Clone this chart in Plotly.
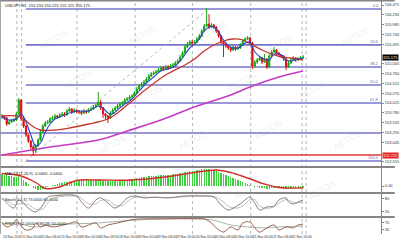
import plotly.graph_objects as go

# ---------------- data ----------------
opens = [153.675, 153.700, 153.650, 153.500, 153.550, 153.575, 153.600, 153.750, 154.100, 153.625,
 153.450, 153.225, 153.075, 152.925, 152.825, 152.950, 153.100, 153.300, 153.450, 153.525,
 153.550, 153.625, 153.650, 153.700, 153.675, 153.725, 153.750, 153.725, 153.825, 153.875,
 153.800, 153.850, 153.825, 153.800, 153.775, 153.825, 153.800, 153.850, 153.875, 153.925,
 153.975, 154.050, 153.900, 153.750, 153.700, 153.650, 153.775, 153.850, 153.900, 153.950,
 154.000, 154.025, 154.100, 154.125, 154.175, 154.200, 154.275, 154.375, 154.450, 154.500,
 154.550, 154.625, 154.700, 154.750, 154.775, 154.800, 154.850, 154.900, 154.875, 154.925,
 154.900, 154.950, 154.975, 155.025, 155.075, 155.175, 155.275, 155.425, 155.500, 155.550,
 155.525, 155.550, 155.625, 155.700, 155.825, 155.950, 156.000, 155.925, 155.975, 155.925,
 155.825, 155.700, 155.550, 155.500, 155.450, 155.400, 155.350, 155.425, 155.375, 155.400,
 155.475, 155.575, 155.625, 155.650, 155.525, 154.950, 155.050, 155.100, 155.150, 155.050,
 155.125, 154.925, 155.200, 155.300, 155.350, 155.275, 155.225, 155.200, 155.125, 154.925,
 155.025, 155.100, 155.150, 155.100, 155.125, 155.150]
highs = [153.750, 153.725, 153.675, 153.600, 153.625, 153.650, 153.800, 154.150, 154.125, 153.675,
 153.475, 153.250, 153.100, 152.975, 153.000, 153.150, 153.350, 153.500, 153.575, 153.600,
 153.675, 153.700, 153.750, 153.725, 153.775, 153.800, 153.800, 153.875, 153.925, 153.900,
 153.900, 153.875, 153.850, 153.825, 153.875, 153.850, 153.900, 153.925, 153.975, 154.025,
 154.300, 154.100, 153.925, 153.775, 153.725, 153.825, 153.900, 153.950, 154.000, 154.050,
 154.075, 154.150, 154.175, 154.225, 154.250, 154.325, 154.425, 154.500, 154.550, 154.600,
 154.675, 154.750, 154.800, 154.825, 154.850, 154.900, 154.950, 154.950, 154.975, 154.975,
 155.000, 155.025, 155.075, 155.125, 155.225, 155.325, 155.475, 155.550, 155.600, 155.600,
 155.600, 155.675, 155.750, 155.875, 156.000, 156.400, 156.250, 156.025, 156.000, 155.950,
 155.850, 155.725, 155.575, 155.525, 155.475, 155.425, 155.475, 155.450, 155.450, 155.525,
 155.625, 155.675, 155.700, 155.675, 155.550, 155.100, 155.150, 155.200, 155.175, 155.250,
 155.150, 155.250, 155.350, 155.425, 155.375, 155.300, 155.250, 155.225, 155.150, 155.075,
 155.150, 155.200, 155.175, 155.175, 155.200, 155.225]
lows = [153.625, 153.600, 153.450, 153.475, 153.525, 153.550, 153.575, 153.725, 153.575, 153.400,
 153.175, 153.025, 152.850, 152.700, 152.775, 152.925, 153.075, 153.275, 153.425, 153.500,
 153.525, 153.600, 153.625, 153.625, 153.650, 153.700, 153.675, 153.700, 153.800, 153.750,
 153.775, 153.775, 153.750, 153.725, 153.750, 153.750, 153.775, 153.825, 153.850, 153.900,
 153.950, 153.850, 153.650, 153.600, 153.525, 153.625, 153.750, 153.825, 153.875, 153.925,
 153.975, 154.000, 154.075, 154.100, 154.150, 154.175, 154.250, 154.350, 154.425, 154.475,
 154.525, 154.600, 154.675, 154.725, 154.750, 154.775, 154.825, 154.825, 154.850, 154.850,
 154.875, 154.925, 154.950, 155.000, 155.050, 155.150, 155.250, 155.400, 155.475, 155.475,
 155.500, 155.525, 155.600, 155.675, 155.800, 155.925, 155.875, 155.900, 155.875, 155.775,
 155.650, 155.500, 155.175, 155.400, 155.350, 155.300, 155.325, 155.325, 155.350, 155.375,
 155.450, 155.550, 155.600, 155.475, 154.875, 154.900, 155.000, 155.075, 155.000, 155.025,
 154.875, 154.900, 155.175, 155.275, 155.225, 155.175, 155.150, 155.075, 154.850, 154.900,
 155.000, 155.075, 155.050, 155.075, 155.100, 155.125]
closes = [153.700, 153.650, 153.500, 153.550, 153.575, 153.600, 153.750, 154.100, 153.625, 153.450,
 153.225, 153.075, 152.925, 152.825, 152.950, 153.100, 153.300, 153.450, 153.525, 153.550,
 153.625, 153.650, 153.700, 153.675, 153.725, 153.750, 153.725, 153.825, 153.875, 153.800,
 153.850, 153.825, 153.800, 153.775, 153.825, 153.800, 153.850, 153.875, 153.925, 153.975,
 154.050, 153.900, 153.750, 153.700, 153.650, 153.775, 153.850, 153.900, 153.950, 154.000,
 154.025, 154.100, 154.125, 154.175, 154.200, 154.275, 154.375, 154.450, 154.500, 154.550,
 154.625, 154.700, 154.750, 154.775, 154.800, 154.850, 154.900, 154.875, 154.925, 154.900,
 154.950, 154.975, 155.025, 155.075, 155.175, 155.275, 155.425, 155.500, 155.550, 155.525,
 155.550, 155.625, 155.700, 155.825, 155.950, 156.000, 155.925, 155.975, 155.925, 155.825,
 155.700, 155.550, 155.500, 155.450, 155.400, 155.350, 155.425, 155.375, 155.400, 155.475,
 155.575, 155.625, 155.650, 155.525, 154.950, 155.050, 155.100, 155.150, 155.050, 155.125,
 154.925, 155.200, 155.300, 155.350, 155.275, 155.225, 155.200, 155.125, 154.925, 155.025,
 155.100, 155.150, 155.100, 155.125, 155.150, 155.175]
bars = list(range(len(closes)))

ma_fast_idx = [0, 3, 6, 8, 10, 12, 14, 16, 18, 20, 22, 25, 28, 32, 36, 40, 42, 44, 46, 48, 51, 54,
               57, 60, 63, 66, 69, 72, 75, 78, 81, 84, 86, 88, 90, 92, 95, 98, 101, 103, 105, 108,
               111, 113, 116, 118, 120, 123, 125]
ma_fast = [153.675, 153.600, 153.625, 153.750, 153.550, 153.225, 152.950, 153.025, 153.300, 153.500,
           153.625, 153.700, 153.775, 153.825, 153.825, 153.950, 153.900, 153.775, 153.750, 153.850,
           154.000, 154.125, 154.325, 154.525, 154.675, 154.825, 154.875, 154.950, 155.150, 155.400,
           155.550, 155.825, 155.925, 155.925, 155.800, 155.600, 155.425, 155.400, 155.525, 155.550,
           155.300, 155.150, 155.100, 155.250, 155.225, 155.100, 155.075, 155.125, 155.150]
ma_mid_idx = [0, 8, 12, 16, 22, 28, 36, 40, 44, 48, 52, 60, 68, 76, 80, 84, 88, 92, 96, 100, 104,
              108, 112, 116, 120, 125]
ma_mid = [153.700, 153.675, 153.475, 153.350, 153.350, 153.400, 153.500, 153.550, 153.625, 153.775,
          153.975, 154.375, 154.725, 154.975, 155.125, 155.325, 155.475, 155.575, 155.625, 155.600,
          155.475, 155.350, 155.250, 155.175, 155.150, 155.100]
ma_slow_idx = [0, 20, 40, 52, 66, 81, 95, 103, 115, 125]
ma_slow = [152.725, 152.925, 153.100, 153.325, 153.600, 153.950, 154.225, 154.425, 154.675, 154.825]

fib_high = 156.375
fib_low = 152.575
fib_ratios = [0.0, 0.236, 0.382, 0.5, 0.618, 1.0]
fib_labels = ["0.0", "23.6", "38.2", "50.0", "61.8", "100.0"]
fib_start_bar = 9.9
fib_end_bar = 85.7
level_blue = 153.275
level_red = 152.725

price_ticks = [156.475, 156.230, 155.985, 155.740, 155.495, 155.005, 154.760, 154.515,
               154.270, 154.025, 153.780, 153.535, 153.290, 153.045, 152.555]

macd_hist = [0.24, 0.23, 0.22, 0.21, 0.20, 0.18, 0.18, 0.20, 0.16, 0.12,
             0.08, 0.04, 0.00, -0.04, -0.06, -0.08, -0.07, -0.06, -0.04, -0.02,
             0.00, 0.02, 0.03, 0.04, 0.06, 0.07, 0.08, 0.09, 0.10, 0.10,
             0.11, 0.12, 0.12, 0.12, 0.12, 0.12, 0.12, 0.12, 0.13, 0.13,
             0.13, 0.12, 0.11, 0.10, 0.10, 0.10, 0.10, 0.11, 0.11, 0.12,
             0.12, 0.13, 0.13, 0.14, 0.15, 0.15, 0.16, 0.17, 0.18, 0.18,
             0.19, 0.20, 0.20, 0.21, 0.21, 0.22, 0.22, 0.22, 0.23, 0.23,
             0.23, 0.24, 0.24, 0.25, 0.26, 0.27, 0.28, 0.29, 0.30, 0.30,
             0.31, 0.32, 0.33, 0.34, 0.35, 0.35, 0.34, 0.33, 0.31, 0.30,
             0.28, 0.26, 0.24, 0.22, 0.21, 0.19, 0.17, 0.15, 0.13, 0.11,
             0.09, 0.07, 0.05, 0.03, 0.01, -0.01, -0.02, -0.03, -0.03, -0.04,
             -0.05, -0.05, -0.04, -0.04, -0.04, -0.04, -0.04, -0.05, -0.05, -0.05,
             -0.05, -0.04, -0.04, -0.04, -0.04, -0.04]
macd_sig_idx = [0, 8, 14, 18, 24, 31, 40, 54, 68, 80, 89, 95, 102, 109, 115, 125]
macd_sig = [0.25, 0.20, 0.07, -0.05, -0.02, 0.11, 0.12, 0.12, 0.18, 0.27, 0.32, 0.27, 0.16, 0.04, -0.03, -0.04]

stoch_idx = [0, 2, 5, 7, 11, 14, 17, 19, 21, 31, 33, 36, 39, 41, 44, 47, 50, 52, 55, 59, 64, 68,
             72, 76, 84, 88, 91, 94, 96, 99, 102, 103, 105, 107, 110, 113, 115, 118, 119, 121, 123, 125]
stoch_main = [82, 59, 36, 73, 36, 18, 50, 86, 91, 91, 64, 36, 73, 82, 59, 36, 59, 82, 91, 82, 86, 82,
              86, 91, 91, 86, 50, 27, 36, 55, 82, 86, 59, 27, 41, 45, 73, 82, 64, 55, 64, 73]
stoch_sig = [78, 70, 50, 55, 52, 30, 32, 60, 80, 90, 80, 55, 55, 70, 72, 50, 48, 65, 85, 86, 84, 84,
             84, 88, 90, 89, 72, 45, 36, 40, 65, 75, 75, 45, 35, 42, 58, 75, 72, 62, 60, 65]

rsi_idx = [0, 2, 5, 6, 7, 10, 13, 14, 16, 18, 21, 27, 31, 33, 36, 39, 41, 44, 48, 54, 58, 64, 68,
           73, 81, 84, 87, 89, 92, 95, 98, 100, 103, 105, 107, 110, 113, 115, 118, 121, 123, 125]
rsi_fast = [75, 44, 69, 92, 69, 25, 38, 69, 44, 56, 44, 62, 75, 44, 56, 69, 38, 56, 69, 90, 94, 95, 95,
            96, 96, 95, 69, 38, 12, 44, 25, 69, 75, 38, 12, 38, 56, 25, 44, 38, 56, 62]
rsi_slow_idx = [0, 6, 13, 20, 27, 40, 54, 68, 81, 88, 95, 102, 109, 115, 125]
rsi_slow = [62, 69, 44, 56, 62, 69, 86, 94, 94, 86, 56, 44, 38, 44, 50]

separator_bars = [6.2, 8.2, 31.2, 55.3, 79.1, 103.3, 124.6, 126.3]
time_label_bars = [0, 8, 16, 24, 32, 40, 48, 56, 64, 72, 80, 88, 96, 104, 112, 120]
time_labels = ["14 Nov 2024", "15 Nov 00:00", "15 Nov 08:00", "15 Nov 16:00", "18 Nov 00:00",
               "18 Nov 08:00", "18 Nov 16:00", "19 Nov 00:00", "19 Nov 08:00", "19 Nov 16:00",
               "20 Nov 00:00", "20 Nov 08:00", "20 Nov 16:00", "21 Nov 00:00", "21 Nov 08:00",
               "21 Nov 16:00"]

# ---------------- layout geometry ----------------
W, H = 400, 240
ML, MR, MT, MB = 0, 14, 0, 6
PW, PH = W - ML - MR, H - MT - MB
X0, X1 = -0.8, -0.8 + PW / 2.44


def py(p):  # pixel (from top of plot area) -> paper y
    return 1 - p / PH


dom_main = [py(166), py(0)]
dom_macd = [py(192), py(168)]
dom_sto = [py(216), py(194)]
dom_rsi = [py(234), py(218)]

FONT = "Liberation Sans"

fig = go.Figure()

fig.add_trace(go.Candlestick(
    x=bars, open=opens, high=highs, low=lows, close=closes,
    increasing=dict(line=dict(color="#18a818", width=1), fillcolor="#18a818"),
    decreasing=dict(line=dict(color="#e01010", width=1), fillcolor="#e01010"),
    whiskerwidth=0, xaxis="x", yaxis="y", hoverinfo="skip"))

fig.add_trace(go.Scatter(x=ma_slow_idx, y=ma_slow, mode="lines", line=dict(color="#c43cc4", width=1.6, shape="spline"),
                         xaxis="x", yaxis="y", hoverinfo="skip"))
fig.add_trace(go.Scatter(x=ma_mid_idx, y=ma_mid, mode="lines", line=dict(color="#c8362e", width=1.3, shape="spline"),
                         xaxis="x", yaxis="y", hoverinfo="skip"))
fig.add_trace(go.Scatter(x=ma_fast_idx, y=ma_fast, mode="lines", line=dict(color="#2a44c8", width=1.1, shape="spline"),
                         xaxis="x", yaxis="y", hoverinfo="skip"))

# MACD
fig.add_trace(go.Bar(x=bars, y=macd_hist, marker=dict(color="#3ccf3c", line=dict(width=0)), width=0.55,
                     xaxis="x", yaxis="y2", hoverinfo="skip"))
fig.add_trace(go.Scatter(x=macd_sig_idx, y=macd_sig, mode="lines", line=dict(color="#d0302a", width=1.4, shape="spline"),
                         xaxis="x", yaxis="y2", hoverinfo="skip"))
# Stochastic
fig.add_trace(go.Scatter(x=stoch_idx, y=stoch_sig, mode="lines", line=dict(color="#bdbdbd", width=1, shape="spline"),
                         xaxis="x", yaxis="y3", hoverinfo="skip"))
fig.add_trace(go.Scatter(x=stoch_idx, y=stoch_main, mode="lines", line=dict(color="#8f7d72", width=1, shape="spline"),
                         xaxis="x", yaxis="y3", hoverinfo="skip"))
# RSI
fig.add_trace(go.Scatter(x=rsi_slow_idx, y=rsi_slow, mode="lines", line=dict(color="#a7b5a5", width=1, shape="spline"),
                         xaxis="x", yaxis="y4", hoverinfo="skip"))
fig.add_trace(go.Scatter(x=rsi_idx, y=rsi_fast, mode="lines", line=dict(color="#9a5f55", width=1, shape="spline"),
                         xaxis="x", yaxis="y4", hoverinfo="skip"))

shapes = []
for b in separator_bars:
    shapes.append(dict(type="line", xref="x", yref="paper", x0=b, x1=b, y0=0, y1=1,
                       line=dict(color="#b4b4b4", width=1, dash="dot"), layer="below"))
for r in fib_ratios:
    lvl = fib_high - r * (fib_high - fib_low)
    shapes.append(dict(type="line", xref="x", yref="y", x0=fib_start_bar, x1=X1, y0=lvl, y1=lvl,
                       line=dict(color="#7474cc", width=1.6), layer="below"))
shapes.append(dict(type="line", xref="x", yref="y", x0=fib_start_bar, x1=fib_end_bar, y0=fib_low, y1=fib_high,
                   line=dict(color="#b8b8b8", width=1, dash="dot"), layer="below"))
shapes.append(dict(type="line", xref="x", yref="y", x0=X0, x1=X1, y0=level_blue, y1=level_blue,
                   line=dict(color="#7474cc", width=1.6), layer="below"))
shapes.append(dict(type="line", xref="x", yref="y", x0=X0, x1=X1, y0=level_red, y1=level_red,
                   line=dict(color="#e03a3a", width=1.4), layer="below"))
for p in [0.5, 167, 193, 217]:
    shapes.append(dict(type="line", xref="paper", yref="paper", x0=0, x1=W / PW, y0=py(p), y1=py(p),
                       line=dict(color="#858585", width=2)))
shapes.append(dict(type="line", xref="paper", yref="paper", x0=0.001, x1=0.001, y0=0, y1=1,
                   line=dict(color="#9a9a9a", width=1)))

annotations = []
for (wx, wy) in [(35, 25), (125, 20), (215, 15), (300, 30), (378, 22), (60, 80), (150, 95), (245, 82),
                 (335, 75), (95, 145), (195, 140), (290, 130), (370, 140), (50, 205), (150, 205),
                 (250, 205), (345, 205)]:
    annotations.append(dict(text="AETOS", x=wx / PW, y=py(wy), xref="paper", yref="paper", showarrow=False,
                            textangle=-30, font=dict(family=FONT, size=9, color="rgba(130,130,130,0.16)")))
for r, lab in zip(fib_ratios, fib_labels):
    lvl = fib_high - r * (fib_high - fib_low)
    annotations.append(dict(text=lab, x=1, y=lvl, xref="paper", yref="y", xanchor="right", yanchor="bottom",
                            showarrow=False, font=dict(family=FONT, size=4, color="#6a6ab0"), yshift=-1))
annotations.append(dict(text="%.3f" % closes[-1], x=1, y=closes[-1], xref="paper", yref="y", xanchor="left",
                        showarrow=False, bgcolor="#000000", borderpad=0, xshift=1,
                        font=dict(family=FONT, size=4, color="#ffffff")))
annotations.append(dict(text="%.3f" % level_red, x=1, y=level_red, xref="paper", yref="y", xanchor="left",
                        showarrow=False, bgcolor="#e02020", borderpad=0, xshift=1,
                        font=dict(family=FONT, size=4, color="#ffffff")))
headers = [("USDJPY,H1  %.3f %.3f %.3f %.3f" % (opens[-1], highs[-1], lows[-1], closes[-1]), py(1)),
           ("MACD(12,26,9) %.4f %.4f" % (macd_hist[-1], macd_sig[-1]), py(168.5)),
           ("Stoch(5,3,3) %.4f %.4f" % (stoch_main[-1], stoch_sig[-1]), py(194.5)),
           ("RSI(14) %.4f  RSI(28) %.4f" % (rsi_fast[-1], rsi_slow[-1]), py(218.5))]
for txt, yy in headers:
    annotations.append(dict(text=txt, x=0.008, y=yy, xref="paper", yref="paper", xanchor="left", yanchor="top",
                            showarrow=False, font=dict(family=FONT, size=4, color="#222222")))
for b, lab in zip(time_label_bars, time_labels):
    annotations.append(dict(text=lab, x=b, y=0, xref="x", yref="paper", xanchor="left", yanchor="top",
                            showarrow=False, yshift=0.5, borderpad=0,
                            font=dict(family=FONT, size=3.3, color="#333333")))

yax_common = dict(side="right", showgrid=False, zeroline=False, showline=True, linecolor="#8a8a8a",
                  linewidth=1, ticks="outside", ticklen=2, tickcolor="#8a8a8a",
                  tickfont=dict(family=FONT, size=4, color="#333333"), fixedrange=True)

fig.update_layout(
    width=W, height=H, margin=dict(l=ML, r=MR, t=MT, b=MB),
    paper_bgcolor="white", plot_bgcolor="white", showlegend=False, bargap=0,
    hovermode=False,
    xaxis=dict(range=[X0, X1], domain=[0, 1], anchor="y4", showgrid=False, zeroline=False,
               showticklabels=False, showline=False, ticks="", rangeslider=dict(visible=False),
               fixedrange=True),
    yaxis=dict(domain=dom_main, range=[156.6 - 166 / 40, 156.6], tickvals=price_ticks,
               ticktext=["%.3f" % v for v in price_ticks], anchor="x", **yax_common),
    yaxis2=dict(domain=dom_macd, range=[-0.12, 0.36], tickvals=[0.3613, 0.0, -0.1295],
                ticktext=["0.3613", "0.00", "-0.1295"], anchor="x", **yax_common),
    yaxis3=dict(domain=dom_sto, range=[0, 100], tickvals=[80, 20],
                ticktext=["80", "20"], anchor="x", **yax_common),
    yaxis4=dict(domain=dom_rsi, range=[0, 100], tickvals=[70, 30],
                ticktext=["70", "30"], anchor="x", **yax_common),
    shapes=shapes, annotations=annotations,
)

fig.write_html("out.html", config={"displayModeBar": False, "staticPlot": True})
